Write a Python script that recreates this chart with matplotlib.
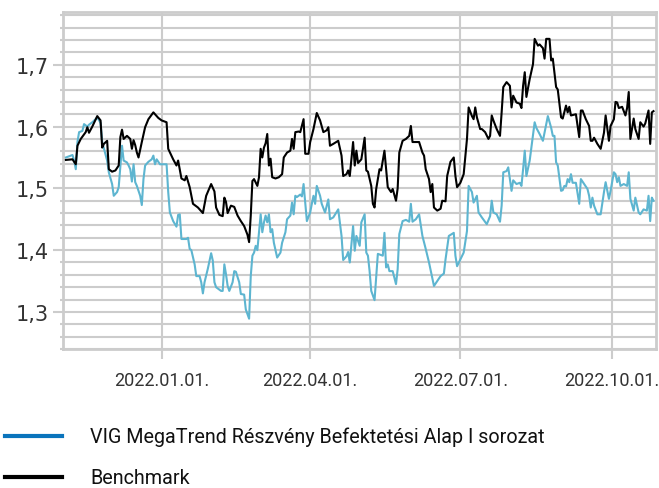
import matplotlib
matplotlib.use('Agg')
import matplotlib.pyplot as plt
import matplotlib.dates as mdates
from matplotlib.lines import Line2D
from matplotlib.ticker import MultipleLocator, FuncFormatter
import pandas as pd

C_FUND = '#5db5d0'
C_FUND_LEG = '#0a74bc'
C_BENCH = '#000000'
C_GRID = '#cccccc'
C_TEXT = '#333333'

legend_labels = ['VIG MegaTrend Részvény Befektetési Alap I sorozat', 'Benchmark']
tick_dates = ['2022-01-01', '2022-04-01', '2022-07-01', '2022-10-01']
y_ticks = [1.3, 1.4, 1.5, 1.6, 1.7]

bench_dates = [
    '2021-11-04', '2021-11-08', '2021-11-10', '2021-11-11', '2021-11-13', '2021-11-16', '2021-11-17',
    '2021-11-18', '2021-11-20', '2021-11-23', '2021-11-25', '2021-11-26', '2021-11-27', '2021-11-29',
    '2021-11-30', '2021-12-02', '2021-12-04', '2021-12-06', '2021-12-07', '2021-12-08', '2021-12-09',
    '2021-12-11', '2021-12-13', '2021-12-14', '2021-12-15', '2021-12-16', '2021-12-17', '2021-12-18',
    '2021-12-20', '2021-12-22', '2021-12-24', '2021-12-27', '2021-12-29', '2021-12-30', '2022-01-01',
    '2022-01-04', '2022-01-05', '2022-01-08', '2022-01-10', '2022-01-11', '2022-01-13', '2022-01-15',
    '2022-01-16', '2022-01-18', '2022-01-20', '2022-01-23', '2022-01-26', '2022-01-28', '2022-01-31',
    '2022-02-02', '2022-02-03', '2022-02-05', '2022-02-07', '2022-02-08', '2022-02-09', '2022-02-10',
    '2022-02-12', '2022-02-14', '2022-02-16', '2022-02-18', '2022-02-20', '2022-02-22', '2022-02-23',
    '2022-02-24', '2022-02-25', '2022-02-26', '2022-02-28', '2022-03-01', '2022-03-02', '2022-03-03',
    '2022-03-04', '2022-03-05', '2022-03-06', '2022-03-07', '2022-03-08', '2022-03-09', '2022-03-11',
    '2022-03-13', '2022-03-15', '2022-03-16', '2022-03-18', '2022-03-20', '2022-03-21', '2022-03-22',
    '2022-03-23', '2022-03-25', '2022-03-26', '2022-03-28', '2022-03-29', '2022-03-31', '2022-04-01',
    '2022-04-03', '2022-04-05', '2022-04-07', '2022-04-09', '2022-04-11', '2022-04-12', '2022-04-13',
    '2022-04-15', '2022-04-18', '2022-04-20', '2022-04-21', '2022-04-23', '2022-04-24', '2022-04-25',
    '2022-04-27', '2022-04-28', '2022-04-29', '2022-04-30', '2022-05-02', '2022-05-04', '2022-05-05',
    '2022-05-06', '2022-05-08', '2022-05-09', '2022-05-10', '2022-05-11', '2022-05-13', '2022-05-14',
    '2022-05-16', '2022-05-17', '2022-05-18', '2022-05-20', '2022-05-21', '2022-05-23', '2022-05-24',
    '2022-05-25', '2022-05-27', '2022-05-29', '2022-05-31', '2022-06-01', '2022-06-02', '2022-06-04',
    '2022-06-06', '2022-06-08', '2022-06-09', '2022-06-10', '2022-06-12', '2022-06-13', '2022-06-14',
    '2022-06-15', '2022-06-17', '2022-06-19', '2022-06-20', '2022-06-22', '2022-06-23', '2022-06-25',
    '2022-06-27', '2022-06-28', '2022-06-29', '2022-07-01', '2022-07-03', '2022-07-05', '2022-07-06',
    '2022-07-08', '2022-07-09', '2022-07-10', '2022-07-11', '2022-07-13', '2022-07-14', '2022-07-16',
    '2022-07-18', '2022-07-19', '2022-07-20', '2022-07-21', '2022-07-23', '2022-07-25', '2022-07-26',
    '2022-07-27', '2022-07-29', '2022-07-31', '2022-08-01', '2022-08-02', '2022-08-04', '2022-08-06',
    '2022-08-07', '2022-08-08', '2022-08-09', '2022-08-10', '2022-08-12', '2022-08-14', '2022-08-15',
    '2022-08-17', '2022-08-18', '2022-08-20', '2022-08-21', '2022-08-22', '2022-08-24', '2022-08-25',
    '2022-08-26', '2022-08-28', '2022-08-29', '2022-08-31', '2022-09-01', '2022-09-03', '2022-09-04',
    '2022-09-05', '2022-09-06', '2022-09-09', '2022-09-11', '2022-09-12', '2022-09-13', '2022-09-15',
    '2022-09-17', '2022-09-18', '2022-09-19', '2022-09-20', '2022-09-22', '2022-09-24', '2022-09-26',
    '2022-09-27', '2022-09-29', '2022-09-30', '2022-10-02', '2022-10-03', '2022-10-04', '2022-10-05',
    '2022-10-07', '2022-10-09', '2022-10-10', '2022-10-11', '2022-10-12', '2022-10-14', '2022-10-15',
    '2022-10-17', '2022-10-18', '2022-10-20', '2022-10-21', '2022-10-23', '2022-10-24', '2022-10-25',
    '2022-10-26',
]
bench_vals = [
    1.546, 1.547, 1.539, 1.569, 1.580, 1.591, 1.599,
    1.590, 1.600, 1.617, 1.610, 1.566, 1.572, 1.577,
    1.531, 1.527, 1.529, 1.537, 1.583, 1.595, 1.580,
    1.585, 1.580, 1.564, 1.578, 1.570, 1.558, 1.550,
    1.575, 1.599, 1.612, 1.623, 1.617, 1.614, 1.610,
    1.607, 1.564, 1.547, 1.537, 1.545, 1.516, 1.513,
    1.520, 1.502, 1.475, 1.469, 1.460, 1.488, 1.507,
    1.495, 1.469, 1.457, 1.455, 1.485, 1.478, 1.460,
    1.472, 1.470, 1.456, 1.447, 1.439, 1.425, 1.413,
    1.456, 1.512, 1.515, 1.504, 1.518, 1.564, 1.550,
    1.566, 1.573, 1.588, 1.537, 1.548, 1.518, 1.516,
    1.518, 1.523, 1.550, 1.558, 1.561, 1.580, 1.564,
    1.591, 1.592, 1.591, 1.612, 1.556, 1.556, 1.575,
    1.596, 1.622, 1.610, 1.591, 1.594, 1.599, 1.569,
    1.572, 1.577, 1.553, 1.520, 1.523, 1.529, 1.520,
    1.575, 1.537, 1.561, 1.541, 1.547, 1.582, 1.529,
    1.527, 1.504, 1.475, 1.469, 1.499, 1.531, 1.529,
    1.561, 1.531, 1.502, 1.494, 1.499, 1.480, 1.500,
    1.558, 1.577, 1.580, 1.585, 1.601, 1.575, 1.575,
    1.575, 1.558, 1.553, 1.531, 1.515, 1.494, 1.507,
    1.469, 1.464, 1.467, 1.480, 1.479, 1.520, 1.543,
    1.550, 1.520, 1.502, 1.509, 1.523, 1.580, 1.631,
    1.617, 1.612, 1.631, 1.615, 1.596, 1.596, 1.591,
    1.580, 1.585, 1.618, 1.610, 1.596, 1.585, 1.623,
    1.664, 1.672, 1.666, 1.631, 1.650, 1.639, 1.637,
    1.630, 1.666, 1.688, 1.648, 1.677, 1.701, 1.742,
    1.731, 1.733, 1.727, 1.710, 1.742, 1.742, 1.707,
    1.710, 1.664, 1.660, 1.615, 1.613, 1.634, 1.623,
    1.632, 1.618, 1.620, 1.583, 1.626, 1.626, 1.612,
    1.601, 1.577, 1.577, 1.582, 1.572, 1.564, 1.590,
    1.618, 1.577, 1.601, 1.612, 1.640, 1.639, 1.630,
    1.632, 1.618, 1.630, 1.656, 1.580, 1.613, 1.596,
    1.580, 1.607, 1.600, 1.605, 1.626, 1.572, 1.623,
    1.625,
]

fund_dates = [
    '2021-11-04', '2021-11-08', '2021-11-09', '2021-11-10', '2021-11-11', '2021-11-12', '2021-11-14',
    '2021-11-15', '2021-11-17', '2021-11-18', '2021-11-20', '2021-11-22', '2021-11-23', '2021-11-25',
    '2021-11-26', '2021-11-29', '2021-11-30', '2021-12-02', '2021-12-03', '2021-12-05', '2021-12-06',
    '2021-12-08', '2021-12-09', '2021-12-11', '2021-12-12', '2021-12-13', '2021-12-14', '2021-12-15',
    '2021-12-16', '2021-12-17', '2021-12-19', '2021-12-20', '2021-12-21', '2021-12-22', '2021-12-24',
    '2021-12-26', '2021-12-27', '2021-12-28', '2021-12-29', '2021-12-31', '2022-01-02', '2022-01-04',
    '2022-01-05', '2022-01-06', '2022-01-08', '2022-01-10', '2022-01-11', '2022-01-12', '2022-01-13',
    '2022-01-16', '2022-01-17', '2022-01-18', '2022-01-19', '2022-01-21', '2022-01-22', '2022-01-24',
    '2022-01-25', '2022-01-26', '2022-01-27', '2022-01-29', '2022-01-31', '2022-02-01', '2022-02-02',
    '2022-02-03', '2022-02-06', '2022-02-07', '2022-02-08', '2022-02-09', '2022-02-10', '2022-02-11',
    '2022-02-13', '2022-02-14', '2022-02-15', '2022-02-17', '2022-02-18', '2022-02-20', '2022-02-21',
    '2022-02-23', '2022-02-24', '2022-02-25', '2022-02-26', '2022-02-27', '2022-02-28', '2022-03-02',
    '2022-03-03', '2022-03-04', '2022-03-05', '2022-03-06', '2022-03-07', '2022-03-08', '2022-03-09',
    '2022-03-10', '2022-03-12', '2022-03-14', '2022-03-15', '2022-03-17', '2022-03-18', '2022-03-20',
    '2022-03-21', '2022-03-22', '2022-03-23', '2022-03-24', '2022-03-26', '2022-03-27', '2022-03-28',
    '2022-03-30', '2022-04-01', '2022-04-02', '2022-04-03', '2022-04-04', '2022-04-05', '2022-04-07',
    '2022-04-08', '2022-04-10', '2022-04-12', '2022-04-13', '2022-04-15', '2022-04-18', '2022-04-20',
    '2022-04-21', '2022-04-23', '2022-04-24', '2022-04-25', '2022-04-27', '2022-04-28', '2022-04-29',
    '2022-05-01', '2022-05-02', '2022-05-04', '2022-05-05', '2022-05-06', '2022-05-07', '2022-05-08',
    '2022-05-10', '2022-05-12', '2022-05-15', '2022-05-16', '2022-05-17', '2022-05-18', '2022-05-19',
    '2022-05-21', '2022-05-23', '2022-05-24', '2022-05-25', '2022-05-27', '2022-05-29', '2022-05-31',
    '2022-06-01', '2022-06-02', '2022-06-04', '2022-06-06', '2022-06-08', '2022-06-10', '2022-06-12',
    '2022-06-15', '2022-06-17', '2022-06-19', '2022-06-21', '2022-06-22', '2022-06-24', '2022-06-27',
    '2022-06-28', '2022-06-29', '2022-07-01', '2022-07-03', '2022-07-05', '2022-07-06', '2022-07-08',
    '2022-07-09', '2022-07-11', '2022-07-12', '2022-07-14', '2022-07-17', '2022-07-19', '2022-07-20',
    '2022-07-21', '2022-07-23', '2022-07-25', '2022-07-26', '2022-07-27', '2022-07-29', '2022-07-30',
    '2022-08-01', '2022-08-02', '2022-08-04', '2022-08-06', '2022-08-07', '2022-08-08', '2022-08-09',
    '2022-08-10', '2022-08-12', '2022-08-15', '2022-08-16', '2022-08-18', '2022-08-20', '2022-08-22',
    '2022-08-23', '2022-08-25', '2022-08-26', '2022-08-27', '2022-08-28', '2022-08-29', '2022-08-31',
    '2022-09-01', '2022-09-02', '2022-09-03', '2022-09-04', '2022-09-05', '2022-09-06', '2022-09-07',
    '2022-09-09', '2022-09-11', '2022-09-12', '2022-09-14', '2022-09-16', '2022-09-17', '2022-09-18',
    '2022-09-19', '2022-09-20', '2022-09-22', '2022-09-24', '2022-09-26', '2022-09-27', '2022-09-29',
    '2022-09-30', '2022-10-02', '2022-10-03', '2022-10-04', '2022-10-05', '2022-10-06', '2022-10-08',
    '2022-10-10', '2022-10-11', '2022-10-12', '2022-10-14', '2022-10-15', '2022-10-17', '2022-10-18',
    '2022-10-20', '2022-10-22', '2022-10-23', '2022-10-24', '2022-10-25', '2022-10-26',
]
fund_vals = [
    1.550, 1.554, 1.545, 1.531, 1.575, 1.591, 1.593,
    1.604, 1.600, 1.603, 1.607, 1.612, 1.615, 1.606,
    1.575, 1.545, 1.526, 1.507, 1.488, 1.494, 1.502,
    1.569, 1.545, 1.542, 1.537, 1.531, 1.511, 1.539,
    1.510, 1.504, 1.488, 1.473, 1.515, 1.537, 1.543,
    1.547, 1.553, 1.539, 1.547, 1.539, 1.539, 1.539,
    1.494, 1.461, 1.447, 1.438, 1.457, 1.458, 1.418,
    1.418, 1.420, 1.402, 1.400, 1.377, 1.358, 1.358,
    1.348, 1.330, 1.348, 1.370, 1.395, 1.383, 1.348,
    1.340, 1.334, 1.334, 1.377, 1.361, 1.342, 1.334,
    1.348, 1.366, 1.365, 1.348, 1.329, 1.328, 1.304,
    1.289, 1.358, 1.391, 1.396, 1.407, 1.400, 1.458,
    1.429, 1.445, 1.456, 1.445, 1.458, 1.429, 1.434,
    1.412, 1.388, 1.396, 1.412, 1.429, 1.450, 1.456,
    1.477, 1.458, 1.488, 1.486, 1.490, 1.487, 1.507,
    1.447, 1.461, 1.475, 1.488, 1.475, 1.504, 1.488,
    1.475, 1.461, 1.482, 1.450, 1.453, 1.466, 1.423,
    1.384, 1.390, 1.397, 1.380, 1.439, 1.399, 1.423,
    1.407, 1.445, 1.458, 1.396, 1.391, 1.366, 1.334,
    1.319, 1.394, 1.391, 1.428, 1.372, 1.377, 1.366,
    1.366, 1.345, 1.369, 1.426, 1.447, 1.449, 1.446,
    1.475, 1.446, 1.450, 1.458, 1.423, 1.402, 1.380,
    1.342, 1.350, 1.358, 1.362, 1.385, 1.423, 1.428,
    1.391, 1.374, 1.385, 1.396, 1.431, 1.504, 1.494,
    1.477, 1.488, 1.461, 1.453, 1.442, 1.455, 1.480,
    1.461, 1.458, 1.446, 1.472, 1.526, 1.528, 1.534,
    1.496, 1.513, 1.507, 1.509, 1.504, 1.531, 1.561,
    1.520, 1.545, 1.607, 1.598, 1.588, 1.577, 1.604,
    1.617, 1.598, 1.585, 1.585, 1.542, 1.537, 1.496,
    1.497, 1.504, 1.503, 1.515, 1.510, 1.523, 1.509,
    1.509, 1.475, 1.515, 1.507, 1.499, 1.488, 1.469,
    1.485, 1.472, 1.458, 1.458, 1.494, 1.510, 1.483,
    1.496, 1.526, 1.523, 1.510, 1.518, 1.504, 1.507,
    1.504, 1.526, 1.483, 1.464, 1.485, 1.461, 1.458,
    1.466, 1.464, 1.488, 1.447, 1.485, 1.480,
]

fig = plt.figure(figsize=(6.59, 4.89), dpi=100, facecolor='white')
ax = fig.add_axes([0.0956, 0.2843, 0.8998, 0.6885])

ax.plot(pd.to_datetime(fund_dates), fund_vals, color=C_FUND, linewidth=1.5, zorder=3)
ax.plot(pd.to_datetime(bench_dates), bench_vals, color=C_BENCH, linewidth=1.5, zorder=4)

ax.set_xlim(pd.Timestamp('2021-11-02 06:00'), pd.Timestamp('2022-10-27 12:00'))
ax.set_ylim(1.24, 1.785)

# axes styling
for sp in ax.spines.values():
    sp.set_color(C_GRID)
    sp.set_linewidth(2)

ax.set_yticks(y_ticks)
ax.yaxis.set_minor_locator(MultipleLocator(0.02))
ax.yaxis.set_major_formatter(FuncFormatter(lambda v, p: f'{v:.1f}'.replace('.', ',')))
ax.set_xticks(pd.to_datetime(tick_dates))
ax.xaxis.set_major_formatter(mdates.DateFormatter('%Y.%m.%d.'))

ax.tick_params(axis='y', which='major', length=7, width=1.5, color=C_GRID, pad=3,
               labelsize=15, labelcolor=C_TEXT)
ax.tick_params(axis='y', which='minor', length=2.5, width=1.5, color=C_GRID)
ax.tick_params(axis='x', which='major', length=7, width=1.5, color=C_GRID, pad=9,
               labelcolor=C_TEXT)
for lbl in ax.get_xticklabels():
    lbl.set_fontfamily('Roboto')
    lbl.set_fontsize(13)

ax.grid(axis='y', which='both', color=C_GRID, linewidth=1.5)
ax.grid(axis='x', which='major', color=C_GRID, linewidth=1.5)
ax.set_axisbelow(True)

# legend drawn below the chart
leg_colors = [C_FUND_LEG, C_BENCH]
leg_y = [0.106, 0.022]
for lab, col, yy in zip(legend_labels, leg_colors, leg_y):
    fig.add_artist(Line2D([0.008, 0.094], [yy, yy], color=col, linewidth=3,
                          transform=fig.transFigure))
    fig.text(0.1366, yy, lab, va='center', ha='left', fontsize=14.2, color='#111111',
             family=['Liberation Sans Narrow', 'Roboto', 'DejaVu Sans'])

fig.savefig('out.png', dpi=100, facecolor='white')
